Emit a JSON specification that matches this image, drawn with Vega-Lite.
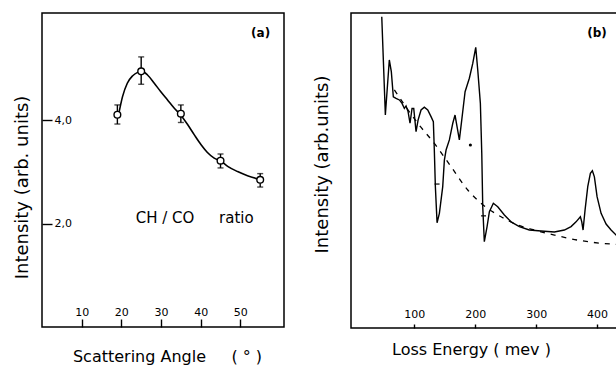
{
  "$schema": "https://vega.github.io/schema/vega-lite/v6.json",
  "padding": {"left": 12, "top": 12, "right": 0, "bottom": 0},
  "background": "white",
  "bounds": "flush",
  "spacing": 67,
  "config": {
    "view": {"stroke": "black", "strokeWidth": 1.5},
    "font": "DejaVu Sans",
    "axis": {
      "grid": false, "domain": false,
      "labelFont": "DejaVu Sans", "titleFont": "DejaVu Sans",
      "labelColor": "black", "titleColor": "black", "tickColor": "black",
      "titleFontWeight": "normal", "labelFontSize": 11, "tickWidth": 1.4, "tickOpacity": 1
    }
  },
  "hconcat": [
    {
      "width": 242,
      "height": 314,
      "layer": [
        {
          "data": {"values": [
            {"a": 19.3, "v": 4.11}, {"a": 20.3, "v": 4.46}, {"a": 21.5, "v": 4.72}, {"a": 22.8, "v": 4.86},
            {"a": 24.1, "v": 4.93}, {"a": 25.2, "v": 4.95}, {"a": 26.6, "v": 4.88}, {"a": 28.3, "v": 4.72},
            {"a": 29.9, "v": 4.56}, {"a": 31.6, "v": 4.40}, {"a": 33.3, "v": 4.24}, {"a": 34.8, "v": 4.12},
            {"a": 36.7, "v": 3.92}, {"a": 38.4, "v": 3.72}, {"a": 40.1, "v": 3.53}, {"a": 41.7, "v": 3.38},
            {"a": 43.4, "v": 3.27}, {"a": 45.1, "v": 3.21}, {"a": 46.8, "v": 3.11}, {"a": 49.3, "v": 3.01},
            {"a": 51.8, "v": 2.93}, {"a": 55.2, "v": 2.85}
          ]},
          "mark": {"type": "line", "interpolate": "monotone", "color": "black", "strokeWidth": 1.6},
          "encoding": {
            "x": {"field": "a", "type": "quantitative", "scale": {"domain": [0, 61], "nice": false, "zero": false},
              "title": "Scattering Angle\u00a0\u00a0\u00a0\u00a0\u00a0( ° )",
              "axis": {"values": [10, 20, 30, 40, 50], "tickSize": -8, "labelPadding": -4, "labelBaseline": "alphabetic",
                "titleFontSize": 16, "titleX": 125, "titleY": 29, "titleBaseline": "middle", "titleAlign": "center"}},
            "y": {"field": "v", "type": "quantitative", "scale": {"domain": [0, 6.08], "nice": false},
              "title": "Intensity (arb. units)",
              "axis": {"values": [2, 4], "tickSize": -10, "labelPadding": -2, "labelAlign": "left", "labelBaseline": "middle",
                "labelExpr": "replace(format(datum.value,'.1f'),'.',',')",
                "titleFontSize": 18, "titleX": -20, "titleY": 174, "titleBaseline": "middle", "titleAlign": "center", "titleAngle": -90}}
          }
        },
        {
          "data": {"values": [
            {"a": 19, "v": 4.11, "lo": 3.93, "hi": 4.30},
            {"a": 25, "v": 4.95, "lo": 4.70, "hi": 5.23},
            {"a": 35, "v": 4.13, "lo": 3.96, "hi": 4.30},
            {"a": 45, "v": 3.22, "lo": 3.08, "hi": 3.35},
            {"a": 55, "v": 2.85, "lo": 2.71, "hi": 2.97}
          ]},
          "layer": [
            {
              "mark": {"type": "errorbar", "ticks": {"size": 6, "color": "black"}, "color": "black", "thickness": 1.4},
              "encoding": {
                "x": {"field": "a", "type": "quantitative", "title": "Scattering Angle\u00a0\u00a0\u00a0\u00a0\u00a0( ° )"},
                "y": {"field": "lo", "type": "quantitative", "title": "Intensity (arb. units)"},
                "y2": {"field": "hi"}
              }
            },
            {
              "mark": {"type": "point", "shape": "circle", "filled": true, "fill": "white", "stroke": "black", "strokeWidth": 1.4, "size": 45, "opacity": 1},
              "encoding": {
                "x": {"field": "a", "type": "quantitative", "title": "Scattering Angle\u00a0\u00a0\u00a0\u00a0\u00a0( ° )"},
                "y": {"field": "v", "type": "quantitative", "title": "Intensity (arb. units)"}
              }
            }
          ]
        },
        {
          "data": {"values": [{"a": 31, "v": 2.12, "t": "CH / CO"}, {"a": 49, "v": 2.12, "t": "ratio"}]},
          "mark": {"type": "text", "fontSize": 15, "color": "black", "font": "DejaVu Sans"},
          "encoding": {
            "x": {"field": "a", "type": "quantitative"},
            "y": {"field": "v", "type": "quantitative"},
            "text": {"field": "t"}
          }
        },
        {
          "data": {"values": [{"a": 55.1, "v": 5.70, "t": "(a)"}]},
          "mark": {"type": "text", "fontSize": 12, "fontWeight": "bold", "color": "black", "font": "DejaVu Sans"},
          "encoding": {
            "x": {"field": "a", "type": "quantitative"},
            "y": {"field": "v", "type": "quantitative"},
            "text": {"field": "t"}
          }
        }
      ]
    },
    {
      "width": 268,
      "height": 315,
      "layer": [
        {
          "data": {"values": [
            {"e": 46.5, "i": 98.8}, {"e": 52.4, "i": 67.6}, {"e": 58.9, "i": 85.1}, {"e": 62.2, "i": 81.4},
            {"e": 65.5, "i": 73.4}, {"e": 70.0, "i": 72.9}, {"e": 75.4, "i": 72.4}, {"e": 79.8, "i": 71.3},
            {"e": 83.6, "i": 69.7}, {"e": 86.4, "i": 70.5}, {"e": 89.7, "i": 68.7}, {"e": 92.9, "i": 65.0},
            {"e": 96.2, "i": 69.7}, {"e": 99.0, "i": 69.7}, {"e": 102.8, "i": 62.3}, {"e": 106.1, "i": 66.0},
            {"e": 111.0, "i": 69.2}, {"e": 116.4, "i": 70.1}, {"e": 122.0, "i": 69.2}, {"e": 127.4, "i": 67.1},
            {"e": 131.2, "i": 65.5}, {"e": 132.8, "i": 56.5}, {"e": 134.5, "i": 44.9}, {"e": 137.3, "i": 33.4},
            {"e": 141.1, "i": 36.4}, {"e": 146.6, "i": 44.9}, {"e": 149.3, "i": 53.3}, {"e": 152.1, "i": 56.5},
            {"e": 157.5, "i": 59.7}, {"e": 163.1, "i": 65.0}, {"e": 166.8, "i": 67.6}, {"e": 170.1, "i": 63.9},
            {"e": 173.9, "i": 59.7}, {"e": 177.8, "i": 66.0}, {"e": 183.3, "i": 75.0}, {"e": 190.3, "i": 79.3},
            {"e": 195.9, "i": 84.0}, {"e": 200.8, "i": 89.1}, {"e": 204.1, "i": 81.9}, {"e": 208.4, "i": 71.3},
            {"e": 210.7, "i": 55.5}, {"e": 212.3, "i": 38.5}, {"e": 214.9, "i": 27.4}, {"e": 219.4, "i": 32.2},
            {"e": 223.2, "i": 36.9}, {"e": 229.7, "i": 39.6}, {"e": 236.9, "i": 38.5}, {"e": 247.8, "i": 35.9},
            {"e": 258.8, "i": 33.7}, {"e": 272.4, "i": 32.2}, {"e": 288.8, "i": 31.1}, {"e": 308.0, "i": 30.8},
            {"e": 329.9, "i": 30.5}, {"e": 346.3, "i": 31.1}, {"e": 357.3, "i": 32.2}, {"e": 365.5, "i": 33.7},
            {"e": 372.6, "i": 35.3}, {"e": 374.9, "i": 33.7}, {"e": 377.0, "i": 31.1}, {"e": 380.3, "i": 37.5},
            {"e": 384.7, "i": 44.9}, {"e": 389.0, "i": 49.1}, {"e": 392.3, "i": 49.9}, {"e": 395.6, "i": 48.0},
            {"e": 400.0, "i": 41.7}, {"e": 406.6, "i": 36.4}, {"e": 414.8, "i": 33.0}, {"e": 423.0, "i": 31.1},
            {"e": 431.2, "i": 29.5}, {"e": 436.0, "i": 28.8}
          ]},
          "mark": {"type": "line", "color": "black", "strokeWidth": 1.4, "clip": true},
          "encoding": {
            "x": {"field": "e", "type": "quantitative", "scale": {"domain": [-4, 436], "nice": false, "zero": false},
              "title": "Loss Energy ( mev )",
              "axis": {"values": [100, 200, 300, 400], "tickSize": -4, "labelPadding": -7, "labelBaseline": "alphabetic",
                "titleFontSize": 16, "titleX": 120, "titleY": 21, "titleBaseline": "middle", "titleAlign": "center"}},
            "y": {"field": "i", "type": "quantitative", "scale": {"domain": [0, 100], "nice": false},
              "title": "Intensity (arb.units)",
              "axis": {"ticks": false, "labels": false,
                "titleFontSize": 18, "titleX": -29, "titleY": 151, "titleBaseline": "middle", "titleAlign": "center", "titleAngle": -90}}
          }
        },
        {
          "data": {"values": [
            {"e": 67.2, "i": 75.6}, {"e": 105.6, "i": 65.0}, {"e": 132.8, "i": 58.6}, {"e": 160.3, "i": 51.2},
            {"e": 187.7, "i": 43.8}, {"e": 209.5, "i": 39.6}, {"e": 242.4, "i": 35.3}, {"e": 269.8, "i": 32.7},
            {"e": 297.0, "i": 31.1}, {"e": 329.9, "i": 29.5}, {"e": 368.3, "i": 27.9}, {"e": 406.6, "i": 26.9},
            {"e": 436.0, "i": 26.5}
          ]},
          "mark": {"type": "line", "color": "black", "strokeWidth": 1.3, "strokeDash": [5, 6], "interpolate": "monotone", "clip": true},
          "encoding": {
            "x": {"field": "e", "type": "quantitative", "title": "Loss Energy ( mev )"},
            "y": {"field": "i", "type": "quantitative", "title": "Intensity (arb.units)"}
          }
        },
        {
          "data": {"values": [{"e": 192, "i": 58.1}]},
          "mark": {"type": "point", "shape": "circle", "filled": true, "color": "black", "size": 10, "opacity": 1},
          "encoding": {
            "x": {"field": "e", "type": "quantitative", "title": "Loss Energy ( mev )"},
            "y": {"field": "i", "type": "quantitative", "title": "Intensity (arb.units)"}
          }
        },
        {
          "data": {"values": [{"e": 137.3, "i": 45.7}, {"e": 213.6, "i": 35.6}]},
          "mark": {"type": "tick", "orient": "horizontal", "color": "black", "size": 5, "thickness": 1.2, "opacity": 1},
          "encoding": {
            "x": {"field": "e", "type": "quantitative", "title": "Loss Energy ( mev )"},
            "y": {"field": "i", "type": "quantitative", "title": "Intensity (arb.units)"}
          }
        },
        {
          "data": {"values": [{"e": 400, "i": 93.7, "t": "(b)"}]},
          "mark": {"type": "text", "fontSize": 12, "fontWeight": "bold", "color": "black", "font": "DejaVu Sans"},
          "encoding": {
            "x": {"field": "e", "type": "quantitative"},
            "y": {"field": "i", "type": "quantitative"},
            "text": {"field": "t"}
          }
        }
      ]
    }
  ]
}
